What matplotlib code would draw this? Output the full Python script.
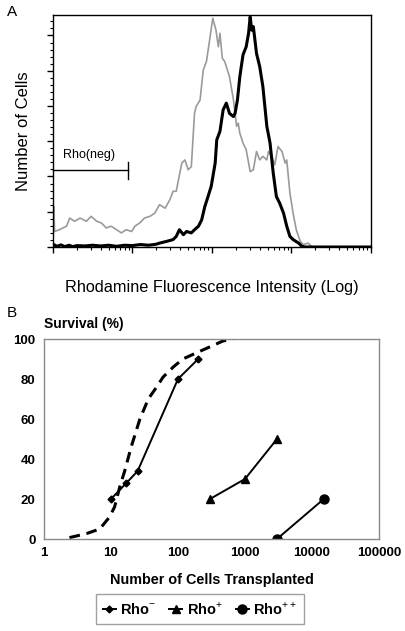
import matplotlib
matplotlib.use('Agg')
import matplotlib.pyplot as plt
import numpy as np
from matplotlib.ticker import LogLocator, MultipleLocator, NullFormatter, FixedLocator

plt.rcParams['font.family'] = ['Liberation Sans', 'DejaVu Sans']
plt.rcParams['mathtext.fontset'] = 'custom'
plt.rcParams['mathtext.rm'] = 'Liberation Sans'

# Panel A: flow histograms (x in log10 of intensity, y in counts)
gray_logx = [0.00, 0.01, 0.02, 0.08, 0.17, 0.21, 0.27, 0.34, 0.42, 0.48, 0.55, 0.61, 0.67,
             0.73, 0.80, 0.86, 0.92, 0.99, 1.03, 1.09, 1.15, 1.22, 1.28, 1.34, 1.41, 1.47,
             1.51, 1.55, 1.62, 1.66, 1.70, 1.74, 1.78, 1.80, 1.85, 1.89, 1.93, 1.97, 2.01,
             2.05, 2.08, 2.10, 2.13, 2.16, 2.18, 2.22, 2.27, 2.31, 2.33, 2.35, 2.39, 2.43,
             2.48, 2.52, 2.56, 2.60, 2.64, 2.69, 2.71, 2.75, 2.79, 2.83, 2.88, 2.92, 2.94,
             2.98, 3.02, 3.06, 3.11, 3.15, 3.21, 3.25, 3.29, 4.00]
gray_counts = [0, 115, 44, 49, 59, 82, 73, 82, 73, 87, 73, 68, 54,
               59, 49, 40, 49, 44, 59, 68, 82, 87, 96, 120, 110, 134,
               158, 158, 238, 247, 219, 228, 379, 398, 417, 502, 526, 587, 649,
               615, 568, 606, 535, 526, 512, 483, 417, 342, 351, 323, 295, 276,
               214, 219, 271, 247, 257, 247, 271, 257, 233, 285, 271, 238, 247,
               153, 96, 49, 16, 7, 11, 2, 0, 0]

black_logx = [0.00, 0.01, 0.05, 0.10, 0.15, 0.20, 0.25, 0.30, 0.40, 0.50, 0.60, 0.70, 0.80,
              0.90, 1.00, 1.10, 1.20, 1.30, 1.34, 1.43, 1.51, 1.55, 1.59, 1.64, 1.68, 1.74,
              1.78, 1.83, 1.87, 1.91, 1.95, 1.99, 2.04, 2.06, 2.10, 2.14, 2.18, 2.22, 2.27,
              2.29, 2.32, 2.35, 2.39, 2.43, 2.46, 2.48, 2.50, 2.52, 2.56, 2.60, 2.64, 2.69,
              2.73, 2.77, 2.81, 2.85, 2.90, 2.94, 2.98, 3.02, 3.09, 3.13, 3.17, 4.00]
black_counts = [0, 7, 2, 6, 1, 5, 1, 4, 3, 5, 3, 5, 2,
                5, 4, 7, 5, 8, 11, 16, 21, 30, 49, 35, 44, 40,
                49, 59, 77, 115, 143, 172, 238, 304, 328, 389, 408, 379, 370,
                379, 417, 483, 545, 568, 606, 653, 615, 625, 549, 512, 455, 342,
                295, 210, 143, 125, 96, 59, 30, 21, 11, 2, 0, 0]

# Panel B: survival vs number of cells transplanted
rho_neg_x = [10, 17, 25, 100, 200]
rho_neg_y = [20, 28, 34, 80, 90]
rho_pos_x = [300, 1000, 3000]
rho_pos_y = [20, 30, 50]
rho_pp_x = [3000, 15000]
rho_pp_y = [0, 20]
fit_x = [2.4, 4.3, 6.8, 9.5, 11.3, 13.5, 16, 20, 27, 36, 48, 60, 85, 118, 186, 296, 468, 661]
fit_y = [0.7, 2.7, 5, 11, 16, 26, 34, 46, 60, 70, 76, 81, 86, 90, 93, 96, 99, 100]

fig = plt.figure(figsize=(4.06, 6.31), dpi=100)

# ---- Panel A
axA = fig.add_axes([53/406, 1-247/631, 318/406, 232/631])
axA.plot(10**np.array(gray_logx), gray_counts, color='#9a9a9a', lw=1.2)
axA.plot(10**np.array(black_logx), black_counts, color='black', lw=2.2)
axA.set_xscale('log')
axA.set_xlim(1, 1e4)
axA.set_ylim(0, 658)
axA.xaxis.set_major_locator(LogLocator(base=10, numticks=10))
axA.xaxis.set_minor_locator(LogLocator(base=10, subs=np.arange(2, 10), numticks=10))
axA.xaxis.set_major_formatter(NullFormatter())
axA.xaxis.set_minor_formatter(NullFormatter())
axA.yaxis.set_major_locator(MultipleLocator(100))
axA.yaxis.set_minor_locator(MultipleLocator(20))
axA.yaxis.set_major_formatter(NullFormatter())
axA.tick_params(which='major', length=4, width=1)
axA.tick_params(which='minor', length=2.5, width=0.8)
for s in axA.spines.values():
    s.set_linewidth(1.0)

# Rho(neg) gate marker
axA.plot([1, 10**0.94], [217, 217], color='black', lw=1.0, clip_on=False)
axA.plot([10**0.94, 10**0.94], [193, 241], color='black', lw=1.0)
axA.text(10**0.13, 262, 'Rho(neg)', fontsize=9, ha='left', va='center')

axA.set_ylabel('Number of Cells', fontsize=12, labelpad=8)
axA.set_xlabel('Rhodamine Fluorescence Intensity (Log)', fontsize=11.7, labelpad=16)
fig.text(12/406, 1-12/631, 'A', fontsize=11, ha='center', va='center')

# ---- Panel B
axB = fig.add_axes([44/406, 1-539/631, 335/406, 200/631])
axB.plot(fit_x, fit_y, color='black', lw=2.2, ls=(0, (3.5, 2.2)))
axB.plot(rho_neg_x, rho_neg_y, color='black', lw=1.4, marker='D', ms=3.5, label='Rho$^{-}$')
axB.plot(rho_pos_x, rho_pos_y, color='black', lw=1.4, marker='^', ms=6, label='Rho$^{+}$')
axB.plot(rho_pp_x, rho_pp_y, color='black', lw=1.4, marker='o', ms=6.5, label='Rho$^{++}$')
axB.set_xscale('log')
axB.set_xlim(1, 1e5)
axB.set_ylim(0, 100)
axB.xaxis.set_major_locator(FixedLocator([1, 10, 100, 1000, 10000, 100000]))
axB.xaxis.set_minor_locator(FixedLocator([]))
axB.set_xticklabels(['1', '10', '100', '1000', '10000', '100000'])
axB.set_yticks([0, 20, 40, 60, 80, 100])
axB.tick_params(length=0, labelsize=9.5, pad=6)
for lab in axB.get_xticklabels() + axB.get_yticklabels():
    lab.set_fontweight('bold')
for s in axB.spines.values():
    s.set_color('#8a8a8a')
    s.set_linewidth(1.0)
axB.set_xlabel('Number of Cells Transplanted', fontsize=10.4, fontweight='bold', labelpad=10)
fig.text(44/406, 1-324/631, 'Survival (%)', fontsize=10, fontweight='bold', ha='left', va='center')
fig.text(12/406, 1-313/631, 'B', fontsize=11, ha='center', va='center')

leg = fig.legend(loc='center', bbox_to_anchor=(200/406, 1-609/631), ncol=3,
                 fancybox=False, edgecolor='#8a8a8a', handlelength=0.9,
                 handletextpad=0.3, columnspacing=0.9, borderpad=0.45,
                 prop={'weight': 'bold', 'size': 10.5})
leg.get_frame().set_linewidth(1.0)

fig.savefig('out.png', dpi=100)
